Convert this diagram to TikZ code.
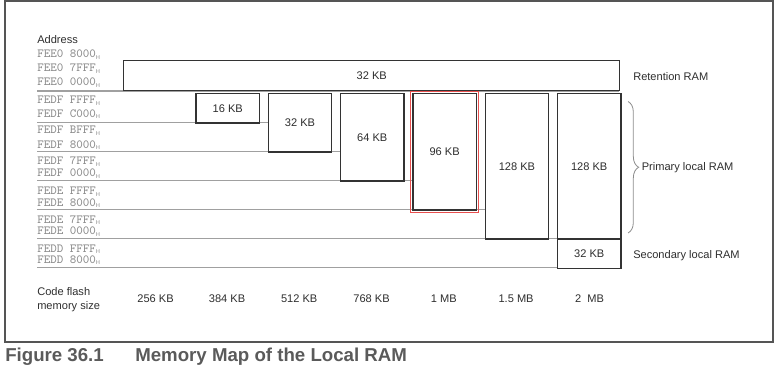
\documentclass[tikz,border=0pt]{standalone}
\usepackage{fontspec}
\setmainfont{Liberation Sans}
\usepackage{xcolor}
\usepackage{tikz}
\usetikzlibrary{fit}
\usetikzlibrary{decorations.pathreplacing}
\definecolor{framegray}{HTML}{555555}
\definecolor{boxgray}{HTML}{333333}
\definecolor{rulegray}{HTML}{A0A0A0}
\definecolor{addrgray}{HTML}{8C8C8C}
\definecolor{textgray}{HTML}{2E2E2E}
\definecolor{capgray}{HTML}{5A5A5A}
\definecolor{markred}{HTML}{E8504F}
\newcommand{\hexh}{\raisebox{-0.35ex}{\fontsize{4.2}{5}\selectfont\sffamily H}}
\tikzset{
	addr/.style={font=\fontsize{9.3}{10}\ttfamily, text=addrgray, anchor=mid west, inner sep=0pt},
	lbl/.style={font=\fontsize{8.3}{10}\selectfont, text=textgray, inner sep=0pt},
	ram box/.style={draw=boxgray, line width=1.1pt, fill=white, anchor=north west,
		minimum width=47.5pt, inner sep=0pt, font=\fontsize{8.3}{10}\selectfont, text=textgray},
	rule/.style={draw=rulegray, line width=0.9pt},
	caption/.style={font=\fontsize{14}{16}\bfseries, text=capgray, anchor=mid west, inner sep=0pt}
}

\begin{document}
\begin{tikzpicture}[x=0.75pt,y=-0.75pt]
	\useasboundingbox (0,0) rectangle (777,382);
	\draw[framegray, line width=1.1pt] (5,1) rectangle (773,342);
	% address column
	\node [lbl,anchor=mid west] (addr) at (37,40) {Address};
	\node [addr] (a1) at (37,54) {FEE0 8000\hexh};
	\node [addr] (a2) at (37,68) {FEE0 7FFF\hexh};
	\node [addr] (a3) at (37,82) {FEE0 0000\hexh};
	\node [addr] (a4) at (37,100) {FEDF FFFF\hexh};
	\node [addr] (a5) at (37,113.5) {FEDF C000\hexh};
	\node [addr] (a6) at (37,130) {FEDF BFFF\hexh};
	\node [addr] (a7) at (37,144.5) {FEDF 8000\hexh};
	\node [addr] (a8) at (37,161) {FEDF 7FFF\hexh};
	\node [addr] (a9) at (37,173) {FEDF 0000\hexh};
	\node [addr] (a10) at (37,191) {FEDE FFFF\hexh};
	\node [addr] (a11) at (37,202.5) {FEDE 8000\hexh};
	\node [addr] (a12) at (37,219.5) {FEDE 7FFF\hexh};
	\node [addr] (a13) at (37,231) {FEDE 0000\hexh};
	\node [addr] (a14) at (37,248.5) {FEDD FFFF\hexh};
	\node [addr] (a15) at (37,259.5) {FEDD 8000\hexh};
	% rules under the address pairs
	\draw[rule] (37,91) -- (619,91);
	\draw[rule] (37,122.1) -- (267.6,122.1);
	\draw[rule] (37,151.2) -- (339.9,151.2);
	\draw[rule] (37,180.3) -- (412.2,180.3);
	\draw[rule] (37,209.4) -- (484.5,209.4);
	\draw[rule] (37,238.5) -- (556.8,238.5);
	\draw[rule] (37,267.6) -- (619,267.6);
	% ram blocks
	\node [ram box,minimum width=372pt,minimum height=22.5pt] (ret) at (123,60) {32 KB};
	\node [ram box,minimum height=21.8pt] (b16) at (195.3,93) {16 KB};
	\node [ram box,minimum height=43.65pt] (b32) at (267.6,93) {32 KB};
	\node [ram box,minimum height=65.5pt] (b64) at (339.9,93) {64 KB};
	\node [ram box,minimum height=87.3pt] (b96) at (412.2,93) {96 KB};
	\node [ram box,minimum height=109.1pt] (b128a) at (484.5,93) {128 KB};
	\node [ram box,minimum height=109.1pt] (b128b) at (556.8,93) {128 KB};
	\node [ram box,minimum height=21.8pt] (b32s) at (556.8,238.5) {32 KB};
	\node [draw=markred,line width=0.9pt,inner sep=1.4pt,fit=(b96)] (mark) {};
	% right side labels
	\node [lbl,anchor=mid west] (retlbl) at (633,77) {Retention RAM};
	\draw [addrgray,line width=0.6pt,decorate,decoration={brace,amplitude=8pt}] (628,101.5) -- (628,233);
	\node [lbl,anchor=mid west] (prilbl) at (641.5,167) {Primary local RAM};
	\node [lbl,anchor=mid west] (seclbl) at (633,255) {Secondary local RAM};
	% code flash sizes
	\node [lbl,anchor=mid west] (cf1) at (37,292) {Code flash};
	\node [lbl,anchor=mid west] (cf2) at (37,305.5) {memory size};
	\node [lbl] (s1) at (155.5,299) {256 KB};
	\node [lbl] (s2) at (227,299) {384 KB};
	\node [lbl] (s3) at (299.2,299) {512 KB};
	\node [lbl] (s4) at (371.5,299) {768 KB};
	\node [lbl] (s5) at (443.8,299) {1 MB};
	\node [lbl] (s6) at (516.1,299) {1.5 MB};
	\node [lbl] (s7) at (589.5,299) {2~~MB};
	% caption
	\node [caption] (fig) at (5,358) {Figure 36.1};
	\node [caption] (title) at (135,358) {Memory Map of the Local RAM};
\end{tikzpicture}
\end{document}
